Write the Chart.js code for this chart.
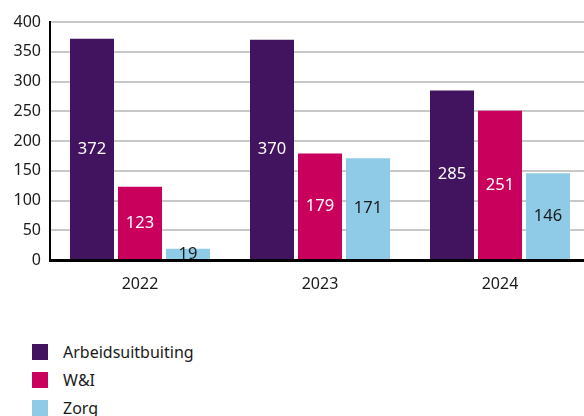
<!DOCTYPE html>
<html>
<head>
<meta charset="utf-8">
<script src="https://cdn.jsdelivr.net/npm/chart.js@4"></script>
<style>
  body { margin: 0; width: 584px; height: 416px; overflow: hidden; background: #fff; font-family: "Noto Sans", sans-serif; }
  #wrap { position: absolute; left: 0; top: 0; width: 584px; height: 316px; overflow: hidden; }
  #legend { position: absolute; left: 32px; top: 344px; margin: 0; padding: 0; list-style: none; }
  #legend li { height: 28px; display: flex; align-items: flex-start; font-size: 16px; color: #1a1a1a; }
  #legend span.box { width: 16px; height: 16px; margin-right: 15px; flex: none; }
  #legend span.txt { line-height: 16px; }
</style>
</head>
<body>
<div id="wrap"><canvas id="myChart" width="590" height="316"></canvas></div>
<ul id="legend"></ul>
<script>
const years = ["2022", "2023", "2024"];
const series_names = ["Arbeidsuitbuiting", "W&I", "Zorg"];
const arbeid = [372, 370, 285];
const wi = [123, 179, 251];
const zorg = [19, 171, 146];
const y_ticks = [0, 50, 100, 150, 200, 250, 300, 350, 400];

const colors = ["#42145f", "#ca005d", "#8fcae7"];
const label_colors = ["#ffffff", "#ffffff", "#1a1a1a"];

// labels in the middle of each bar
const barLabels = {
    id: "barLabels",
    afterDatasetsDraw(chart) {
        const ctx = chart.ctx;
        ctx.save();
        ctx.font = "16.5px 'Noto Sans'";
        ctx.textAlign = "center";
        ctx.textBaseline = "middle";
        chart.data.datasets.forEach((ds, i) => {
            chart.getDatasetMeta(i).data.forEach((bar, j) => {
                ctx.fillStyle = label_colors[i];
                ctx.fillText(ds.data[j], bar.x, (bar.y + bar.base) / 2);
            });
        });
        ctx.restore();
    }
};

const ctx = document.getElementById("myChart").getContext("2d");
const chart = new Chart(ctx, {
    type: "bar",
    data: {
        labels: years,
        datasets: [arbeid, wi, zorg].map((d, i) => ({
            label: series_names[i],
            data: d,
            backgroundColor: colors[i],
            borderWidth: 0
        }))
    },
    options: {
        responsive: false,
        animation: false,
        devicePixelRatio: 1,
        layout: { padding: { top: 22, left: 0, right: 0, bottom: 0 } },
        datasets: { bar: { categoryPercentage: 0.8, barPercentage: 44 / 48 } },
        plugins: { legend: { display: false }, tooltip: { enabled: false } },
        scales: {
            x: {
                grid: { display: false, drawTicks: false },
                border: { color: "#000", width: 3 },
                ticks: { color: "#1a1a1a", font: { family: "Noto Sans", size: 16 }, padding: 15 },
                afterFit: s => { s.height = 316 - 260; }
            },
            y: {
                min: 0,
                max: 400,
                afterBuildTicks: s => { s.ticks = y_ticks.map(v => ({ value: v })); },
                grid: { color: "#c8c8c8", lineWidth: 2, drawTicks: false },
                border: { color: "#000", width: 2 },
                ticks: { color: "#1a1a1a", font: { family: "Noto Sans", size: 16 }, padding: 9 },
                afterFit: s => { s.width = 50; }
            }
        }
    },
    plugins: [barLabels]
});

const legend = document.getElementById("legend");
series_names.forEach((name, i) => {
    const li = document.createElement("li");
    li.innerHTML = '<span class="box" style="background:' + colors[i] + '"></span><span class="txt"></span>';
    li.querySelector(".txt").textContent = name;
    legend.appendChild(li);
});
</script>
</body>
</html>
